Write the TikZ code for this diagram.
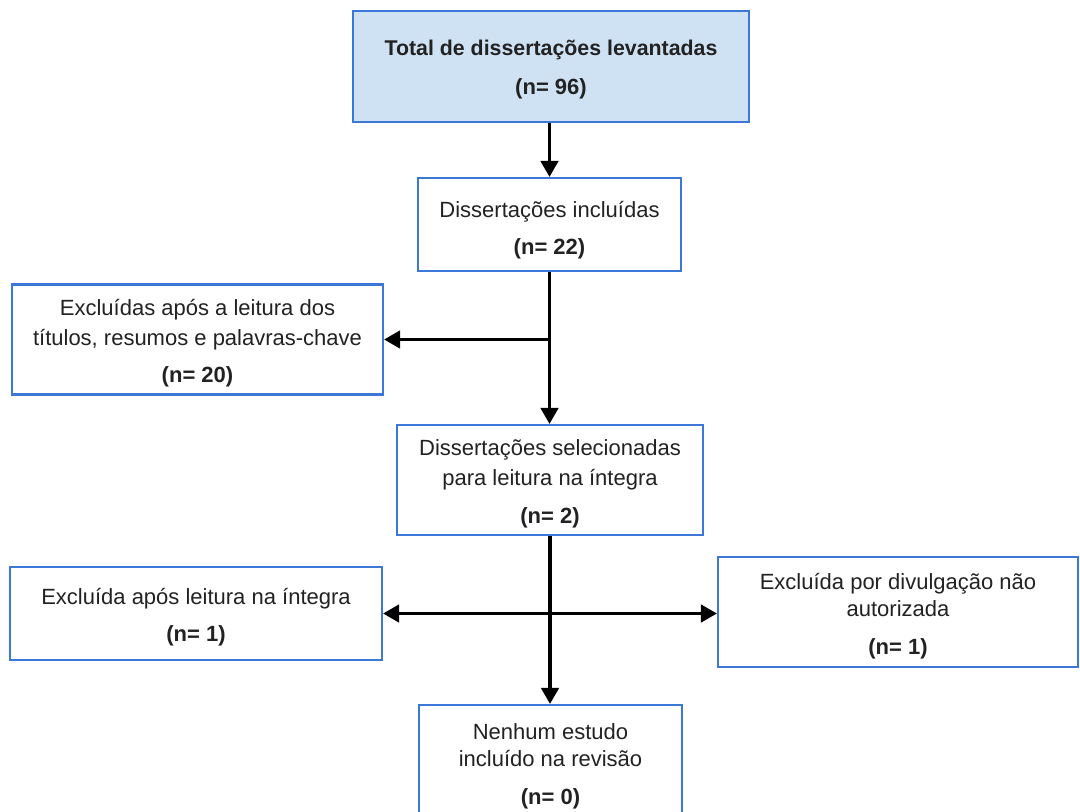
\documentclass[tikz,border=0pt]{standalone}
\usepackage{fontspec}
\setmainfont{Liberation Sans}
\usetikzlibrary{arrows.meta}
\definecolor{bordblue}{HTML}{3C78D8}
\definecolor{fillblue}{HTML}{CFE2F3}
\definecolor{txt}{HTML}{222222}
\begin{document}
\begin{tikzpicture}[x=0.75pt,y=-0.75pt,
  flowbox/.style 2 args={draw=bordblue, line width=1.6pt, fill=white, rectangle,
    minimum width=0.75*#1 pt, minimum height=0.75*#2 pt, inner sep=0pt},
  boxtext/.style={inner sep=0pt, align=center, text=txt,
    font=\fontsize{16.5pt}{22.5pt}\selectfont},
  conn/.style={line width=2.6pt, black},
  arr/.style={conn, -{Triangle[length=12pt,width=13pt]}}]
\useasboundingbox (0,0) rectangle (1080,811);
\clip (0,0) rectangle (1080,811);
\fill[white] (0,0) rectangle (1080,811);
\node[flowbox={396}{111}, fill=fillblue] (b1) at (551,66.5) {};
\node[boxtext] (b1t) at ([yshift=-2.4pt]b1.center)
  {\fontsize{16pt}{22.5pt}\selectfont\textbf{Total de dissertações levantadas}\\[7pt]\textbf{(n= 96)}};
\node[flowbox={263}{93}] (b2) at (549.5,224.5) {};
\node[boxtext] (b2t) at ([yshift=-4.4pt]b2.center)
  {Dissertações incluídas\\[5pt]\textbf{(n= 22)}};
\node[flowbox={371}{110}] (l1) at (197.5,339.5) {};
\node[boxtext] (l1t) at ([yshift=-3pt]l1.center)
  {Excluídas após a leitura dos\\títulos, resumos e palavras-chave\\[5pt]\textbf{(n= 20)}};
\node[flowbox={306}{110}] (b3) at (550,480) {};
\node[boxtext] (b3t) at ([yshift=-3pt]b3.center)
  {Dissertações selecionadas\\para leitura na íntegra\\[6pt]\textbf{(n= 2)}};
\node[flowbox={372}{93}] (l2) at (196,613.5) {};
\node[boxtext] (l2t) at ([yshift=-3pt]l2.center)
  {Excluída após leitura na íntegra\\[5pt]\textbf{(n= 1)}};
\node[flowbox={360}{110}] (r2) at (898,612) {};
\node[boxtext] (r2t) at ([yshift=-3pt]r2.center)
  {Excluída por divulgação não\\[-2pt]autorizada\\[6pt]\textbf{(n= 1)}};
\node[flowbox={263}{116}] (b5) at (550.5,763) {};
\node[boxtext] (b5t) at ([yshift=-2.4pt]b5.center)
  {Nenhum estudo\\[-2pt]incluído na revisão\\[6pt]\textbf{(n= 0)}};
\coordinate (j1) at (b2.south |- l1.east);
\coordinate (j2) at (b3.south |- l2.east);
\draw[arr] (b1.south -| b2.south) -- (b2.north);
\draw[arr] (b2.south) -- (b3.north -| b2.south);
\draw[arr] (j1) -- (l1.east);
\draw[arr] (b3.south) -- (b5.north -| b3.south);
\draw[arr] (j2) -- (l2.east);
\draw[arr] (j2) -- (r2.west |- j2);
\end{tikzpicture}
\end{document}
